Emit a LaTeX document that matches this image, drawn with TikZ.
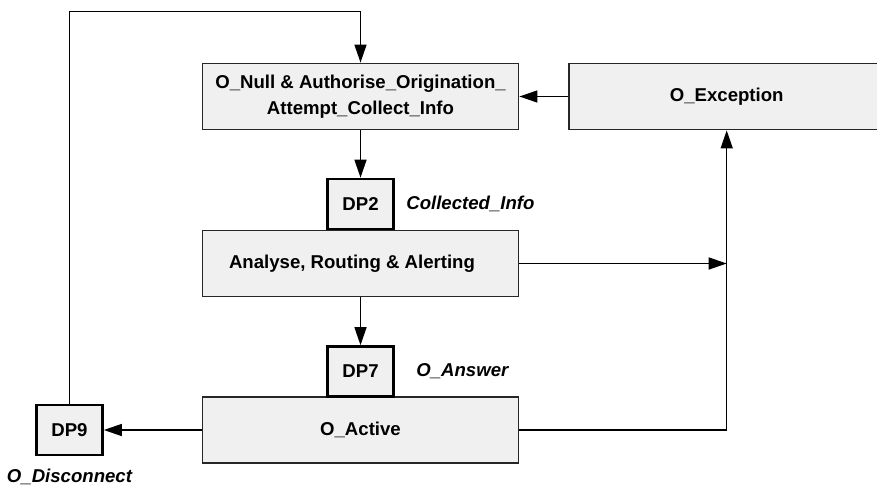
\documentclass[tikz,border=0pt]{standalone}
\usepackage{fontspec}
\setmainfont{Liberation Sans}
\usetikzlibrary{arrows.meta}

\begin{document}
\begin{tikzpicture}
[x=1pt,y=-1pt,>={Triangle[length=18pt,width=12pt]},
every node/.style={font=\fontsize{18.6}{25.5}\selectfont\bfseries},
state/.style={draw=black!85,line width=1.8pt,fill=black!6,minimum width=316pt,minimum height=66pt,inner sep=0pt,align=center},
dpbox/.style={draw,line width=2.6pt,fill=black!6,minimum width=66pt,minimum height=50pt,inner sep=0pt},
tag/.style={font=\fontsize{18.6}{22}\selectfont\bfseries\itshape},]

%Picture size
\clip (0,0) rectangle (877,484);

%States
\node (null) at (360.5,96.5)[state] {O\_Null \& Authorise\_Origination\_\\Attempt\_Collect\_Info};
\node (exc) at (726.7,96.5)[state] {O\_Exception};
\node (analyse) at (360.5,263.5)[state] {\hspace*{-17pt}Analyse, Routing \& Alerting};
\node (active) at (360.5,430)[state] {O\_Active};

%Detection points
\node (dp2) at (360.5,204)[dpbox,label={[tag,xshift=8pt]right:Collected\_Info}] {DP2};
\node (dp7) at (360.5,371.5)[dpbox,label={[tag,xshift=18pt]right:O\_Answer}] {DP7};
\node (dp9) at (69.5,430)[dpbox,label={[tag,yshift=-9pt]below:O\_Disconnect}] {DP9};

\coordinate (top) at (360.5,11.5);

%Transitions
\draw[line width=1.4pt,->] (null) -- (dp2);
\draw[line width=1.4pt,->] (analyse) -- (dp7);
\draw[line width=1.4pt,->] (exc) -- (null);
\draw[line width=1.4pt,->] (active) -- (dp9);
\draw[line width=1.4pt,->] (analyse.east) -- (analyse.east -| exc.south);
\draw[line width=1.4pt,->] (active.east) -| (exc.south);
\draw[line width=1.4pt,->] (dp9.north) |- (top) -- (null.north);
\end{tikzpicture}
\end{document}
